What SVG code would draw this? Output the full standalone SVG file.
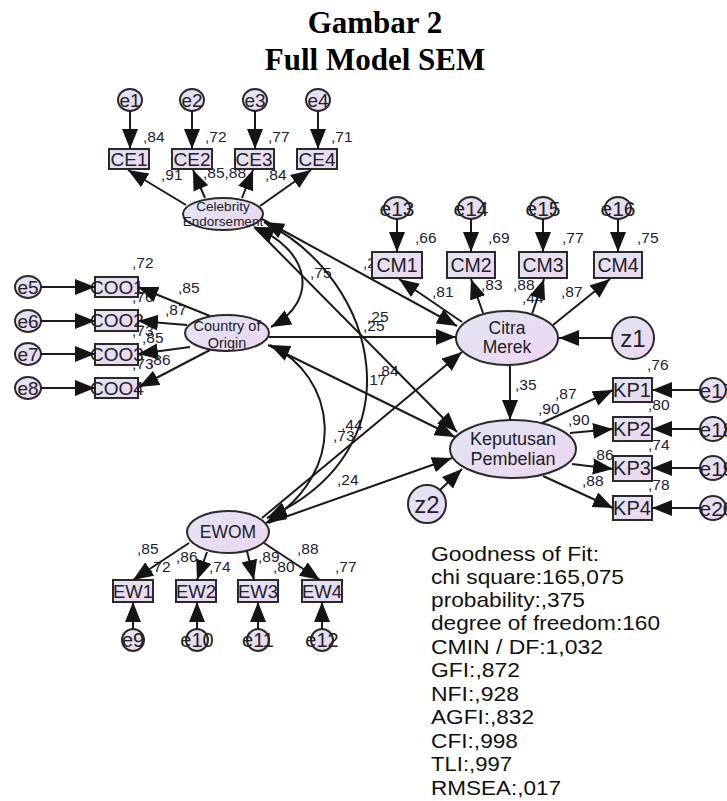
<svg xmlns="http://www.w3.org/2000/svg" width="727" height="801" viewBox="0 0 727 801">
<defs>
<linearGradient id="g" x1="0" y1="0" x2="1" y2="1">
<stop offset="0" stop-color="#dfe6f3"/>
<stop offset="1" stop-color="#efd5f1"/>
</linearGradient>
<marker id="ah" markerUnits="userSpaceOnUse" markerWidth="21" markerHeight="17" refX="20" refY="8" orient="auto-start-reverse">
<path d="M0,0 L20,8 L0,16 z" fill="#141414"/>
</marker>
</defs>
<style>
.t{font-family:"Times New Roman","Liberation Serif",serif;font-weight:bold;font-size:31px;fill:#000;text-anchor:middle}
.n{fill:url(#g);stroke:#2a2a2a;stroke-width:2}
.nt{font-family:"Liberation Sans",Arial,sans-serif;fill:#222;text-anchor:middle}
.lb{font-family:"Liberation Sans",Arial,sans-serif;font-size:15.5px;fill:#1a2238}
.gf{font-family:"Liberation Sans",Arial,sans-serif;font-size:21px;fill:#111}
.c path,.c line{stroke:#1a1a1a;stroke-width:2;fill:none}
.a{marker-end:url(#ah)}
.d{marker-start:url(#ah);marker-end:url(#ah)}
</style>
<rect width="727" height="801" fill="#fff"/>
<text class="t" x="375" y="33">Gambar 2</text>
<text class="t" x="375" y="70">Full Model SEM</text>

<g id="labels" class="lb">
<text x="143" y="142">,84</text><text x="205" y="142">,72</text><text x="268" y="142">,77</text><text x="331" y="142">,71</text>
<text x="161" y="180">,91</text><text x="203" y="178">,85,88</text><text x="265" y="180">,84</text>
<text x="132" y="268">,72</text><text x="178" y="293">,85</text><text x="132" y="302">,76</text><text x="165" y="315">,87</text>
<text x="132" y="336">,73</text><text x="142" y="343">,85</text><text x="132" y="369">,73</text><text x="149" y="365">,86</text>
<text x="415" y="243">,66</text><text x="488" y="243">,69</text><text x="562" y="243">,77</text><text x="637" y="243">,75</text>
<text x="363" y="268">,20</text><text x="432" y="297">,81</text><text x="481" y="290">,83</text><text x="513" y="290">,88</text><text x="522" y="303">,44</text><text x="561" y="297">,87</text>
<text x="310" y="278">,75</text><text x="367" y="322">,25</text><text x="363" y="331">,25</text>
<text x="377" y="376">,84</text><text x="365" y="385">,17</text><text x="341" y="430">,44</text><text x="333" y="441">,73</text><text x="337" y="485">,24</text>
<text x="515" y="390">,35</text><text x="555" y="399">,87</text><text x="538" y="414">,90</text><text x="568" y="425">,90</text><text x="592" y="460">,86</text><text x="582" y="486">,88</text>
<text x="647" y="370">,76</text><text x="648" y="410">,80</text><text x="648" y="450">,74</text><text x="648" y="490">,78</text>
<text x="137" y="554">,85</text><text x="149" y="572">,72</text><text x="176" y="562">,86</text><text x="209" y="572">,74</text>
<text x="258" y="562">,89</text><text x="273" y="572">,80</text><text x="297" y="554">,88</text><text x="335" y="572">,77</text>
</g>

<g id="e1"><ellipse class="n" cx="130" cy="100" rx="12" ry="11"/><text class="nt" x="130" y="107" font-size="19">e1</text></g>
<g id="e2"><ellipse class="n" cx="192" cy="100" rx="12" ry="11"/><text class="nt" x="192" y="107" font-size="19">e2</text></g>
<g id="e3"><ellipse class="n" cx="255" cy="100" rx="12" ry="11"/><text class="nt" x="255" y="107" font-size="19">e3</text></g>
<g id="e4"><ellipse class="n" cx="318" cy="100" rx="12" ry="11"/><text class="nt" x="318" y="107" font-size="19">e4</text></g>
<g id="CE1"><rect class="n" x="109" y="149" width="40" height="20"/><text class="nt" x="129" y="166" font-size="19">CE1</text></g>
<g id="CE2"><rect class="n" x="172" y="149" width="40" height="20"/><text class="nt" x="192" y="166" font-size="19">CE2</text></g>
<g id="CE3"><rect class="n" x="235" y="149" width="39" height="20"/><text class="nt" x="254" y="166" font-size="19">CE3</text></g>
<g id="CE4"><rect class="n" x="297" y="149" width="40" height="20"/><text class="nt" x="317" y="166" font-size="19">CE4</text></g>
<g id="CE"><ellipse class="n" cx="223" cy="214" rx="40" ry="16"/><text class="nt" x="223" y="211" font-size="13.5">Celebrity</text><text class="nt" x="223" y="226" font-size="13.5">Endorsement</text></g>

<g id="e5"><ellipse class="n" cx="28" cy="287" rx="13" ry="11"/><text class="nt" x="28" y="294" font-size="19">e5</text></g>
<g id="e6"><ellipse class="n" cx="28" cy="321" rx="13" ry="11"/><text class="nt" x="28" y="328" font-size="19">e6</text></g>
<g id="e7"><ellipse class="n" cx="28" cy="354" rx="13" ry="11"/><text class="nt" x="28" y="361" font-size="19">e7</text></g>
<g id="e8"><ellipse class="n" cx="28" cy="388" rx="13" ry="11"/><text class="nt" x="28" y="395" font-size="19">e8</text></g>
<g id="COO1"><rect class="n" x="95" y="277" width="43" height="20"/><text class="nt" x="117" y="294" font-size="19">COO1</text></g>
<g id="COO2"><rect class="n" x="95" y="310" width="43" height="21"/><text class="nt" x="117" y="327" font-size="19">COO2</text></g>
<g id="COO3"><rect class="n" x="95" y="344" width="43" height="21"/><text class="nt" x="117" y="361" font-size="19">COO3</text></g>
<g id="COO4"><rect class="n" x="95" y="378" width="43" height="20"/><text class="nt" x="117" y="395" font-size="19">COO4</text></g>
<g id="COO"><ellipse class="n" cx="227" cy="333" rx="42" ry="18"/><text class="nt" x="227" y="331" font-size="14.5">Country of</text><text class="nt" x="227" y="348" font-size="14.5">Origin</text></g>

<g id="e13"><ellipse class="n" cx="397" cy="208" rx="13" ry="11"/><text class="nt" x="397" y="216" font-size="21">e13</text></g>
<g id="e14"><ellipse class="n" cx="471" cy="208" rx="13" ry="11"/><text class="nt" x="471" y="216" font-size="21">e14</text></g>
<g id="e15"><ellipse class="n" cx="543" cy="208" rx="13" ry="11"/><text class="nt" x="543" y="216" font-size="21">e15</text></g>
<g id="e16"><ellipse class="n" cx="618" cy="208" rx="13" ry="11"/><text class="nt" x="618" y="216" font-size="21">e16</text></g>
<g id="CM1"><rect class="n" x="372" y="252" width="50" height="26"/><text class="nt" x="397" y="272" font-size="19.5">CM1</text></g>
<g id="CM2"><rect class="n" x="447" y="252" width="48" height="26"/><text class="nt" x="471" y="272" font-size="19.5">CM2</text></g>
<g id="CM3"><rect class="n" x="519" y="252" width="48" height="26"/><text class="nt" x="543" y="272" font-size="19.5">CM3</text></g>
<g id="CM4"><rect class="n" x="594" y="252" width="48" height="26"/><text class="nt" x="618" y="272" font-size="19.5">CM4</text></g>
<g id="CM"><ellipse class="n" cx="507" cy="338" rx="51" ry="27"/><text class="nt" x="507" y="334" font-size="17.5">Citra</text><text class="nt" x="507" y="353" font-size="17.5">Merek</text></g>
<g id="z1"><circle class="n" cx="633" cy="338" r="21"/><text class="nt" x="633" y="347" font-size="24">z1</text></g>

<g id="KP"><ellipse class="n" cx="513" cy="449" rx="63" ry="29"/><text class="nt" x="513" y="445" font-size="18">Keputusan</text><text class="nt" x="513" y="465" font-size="18">Pembelian</text></g>
<g id="z2"><circle class="n" cx="427" cy="504" r="19"/><text class="nt" x="427" y="513" font-size="24">z2</text></g>
<g id="KP1"><rect class="n" x="613" y="378" width="39" height="24"/><text class="nt" x="632" y="397" font-size="20">KP1</text></g>
<g id="KP2"><rect class="n" x="613" y="417" width="39" height="24"/><text class="nt" x="632" y="436" font-size="20">KP2</text></g>
<g id="KP3"><rect class="n" x="613" y="456" width="39" height="25"/><text class="nt" x="632" y="475" font-size="20">KP3</text></g>
<g id="KP4"><rect class="n" x="613" y="496" width="39" height="24"/><text class="nt" x="632" y="515" font-size="20">KP4</text></g>
<g id="e17"><ellipse class="n" cx="713" cy="390" rx="13" ry="12"/><text class="nt" x="717" y="398" font-size="21">e17</text></g>
<g id="e18"><ellipse class="n" cx="713" cy="429" rx="13" ry="12"/><text class="nt" x="717" y="437" font-size="21">e18</text></g>
<g id="e19"><ellipse class="n" cx="713" cy="468" rx="13" ry="12"/><text class="nt" x="717" y="476" font-size="21">e19</text></g>
<g id="e20"><ellipse class="n" cx="713" cy="508" rx="13" ry="12"/><text class="nt" x="717" y="516" font-size="21">e20</text></g>

<g id="EWOM"><ellipse class="n" cx="228" cy="532" rx="41" ry="21"/><text class="nt" x="228" y="538" font-size="17.5">EWOM</text></g>
<g id="EW1"><rect class="n" x="113" y="580" width="40" height="22"/><text class="nt" x="133" y="598" font-size="18.5">EW1</text></g>
<g id="EW2"><rect class="n" x="176" y="580" width="40" height="22"/><text class="nt" x="196" y="598" font-size="18.5">EW2</text></g>
<g id="EW3"><rect class="n" x="238" y="580" width="40" height="22"/><text class="nt" x="258" y="598" font-size="18.5">EW3</text></g>
<g id="EW4"><rect class="n" x="302" y="580" width="40" height="22"/><text class="nt" x="322" y="598" font-size="18.5">EW4</text></g>
<g id="e9"><ellipse class="n" cx="133" cy="640" rx="11" ry="11"/><text class="nt" x="133" y="647" font-size="20">e9</text></g>
<g id="e10"><ellipse class="n" cx="197" cy="640" rx="11" ry="11"/><text class="nt" x="197" y="647" font-size="20">e10</text></g>
<g id="e11"><ellipse class="n" cx="258" cy="640" rx="11" ry="11"/><text class="nt" x="258" y="647" font-size="20">e11</text></g>
<g id="e12"><ellipse class="n" cx="322" cy="640" rx="11" ry="11"/><text class="nt" x="322" y="647" font-size="20">e12</text></g>

<g id="connectors" class="c">
<line class="a" x1="130" y1="111" x2="130" y2="149"/>
<line class="a" x1="192" y1="111" x2="192" y2="149"/>
<line class="a" x1="255" y1="111" x2="255" y2="149"/>
<line class="a" x1="318" y1="111" x2="318" y2="149"/>
<line class="a" x1="186" y1="205" x2="128" y2="170"/>
<line class="a" x1="205" y1="198" x2="193" y2="170"/>
<line class="a" x1="242" y1="198" x2="253" y2="170"/>
<line class="a" x1="260" y1="206" x2="311" y2="170"/>

<line class="a" x1="41" y1="287" x2="95" y2="287"/>
<line class="a" x1="41" y1="321" x2="95" y2="321"/>
<line class="a" x1="41" y1="354" x2="95" y2="354"/>
<line class="a" x1="41" y1="388" x2="95" y2="388"/>
<line class="a" x1="210" y1="316" x2="138" y2="287"/>
<line class="a" x1="187" y1="325" x2="138" y2="321"/>
<line class="a" x1="190" y1="347" x2="138" y2="354"/>
<line class="a" x1="210" y1="350" x2="139" y2="387"/>

<line class="a" x1="397" y1="219" x2="397" y2="252"/>
<line class="a" x1="471" y1="219" x2="471" y2="252"/>
<line class="a" x1="543" y1="219" x2="543" y2="252"/>
<line class="a" x1="618" y1="219" x2="618" y2="252"/>
<line class="a" x1="462" y1="322" x2="399" y2="279"/>
<line class="a" x1="483" y1="313" x2="471" y2="279"/>
<line class="a" x1="532" y1="314" x2="544" y2="279"/>
<line class="a" x1="553" y1="325" x2="610" y2="279"/>
<line class="a" x1="612" y1="338" x2="559" y2="338"/>

<line class="a" x1="510" y1="366" x2="510" y2="420"/>
<line class="a" x1="542" y1="423" x2="613" y2="390"/>
<line class="a" x1="570" y1="433" x2="613" y2="429"/>
<line class="a" x1="572" y1="464" x2="613" y2="469"/>
<line class="a" x1="543" y1="476" x2="613" y2="508"/>
<line class="a" x1="700" y1="390" x2="652" y2="390"/>
<line class="a" x1="700" y1="429" x2="652" y2="429"/>
<line class="a" x1="700" y1="468" x2="652" y2="468"/>
<line class="a" x1="700" y1="508" x2="652" y2="508"/>
<line class="a" x1="440" y1="490" x2="462" y2="469"/>

<line class="a" x1="189" y1="543" x2="133" y2="580"/>
<line class="a" x1="207" y1="552" x2="197" y2="580"/>
<line class="a" x1="247" y1="551" x2="254" y2="580"/>
<line class="a" x1="264" y1="543" x2="320" y2="580"/>
<line class="a" x1="133" y1="629" x2="133" y2="602"/>
<line class="a" x1="197" y1="629" x2="197" y2="602"/>
<line class="a" x1="258" y1="629" x2="258" y2="602"/>
<line class="a" x1="322" y1="629" x2="322" y2="602"/>

<line class="a" x1="262" y1="219" x2="457" y2="326"/>
<line class="a" x1="255" y1="228" x2="457" y2="432"/>
<line class="a" x1="269" y1="337" x2="456" y2="337"/>
<line class="a" x1="268" y1="345" x2="455" y2="437"/>
<line class="a" x1="262" y1="518" x2="462" y2="352"/>
<line class="a" x1="268" y1="523" x2="452" y2="458"/>
<path class="d" d="M254,227 C310,250 320,300 271,327"/>
<path class="d" d="M264,222 C380,280 420,450 267,518"/>
<path class="d" d="M270,345 C335,375 352,470 266,523"/>
</g>

<g id="fit" class="gf">
<text x="431" y="561" textLength="168" lengthAdjust="spacingAndGlyphs">Goodness of Fit:</text>
<text x="431" y="584" textLength="193" lengthAdjust="spacingAndGlyphs">chi square:165,075</text>
<text x="431" y="607" textLength="154" lengthAdjust="spacingAndGlyphs">probability:,375</text>
<text x="431" y="630" textLength="229" lengthAdjust="spacingAndGlyphs">degree of freedom:160</text>
<text x="431" y="654" textLength="172" lengthAdjust="spacingAndGlyphs">CMIN / DF:1,032</text>
<text x="431" y="677" textLength="89" lengthAdjust="spacingAndGlyphs">GFI:,872</text>
<text x="431" y="701" textLength="88" lengthAdjust="spacingAndGlyphs">NFI:,928</text>
<text x="431" y="724" textLength="103" lengthAdjust="spacingAndGlyphs">AGFI:,832</text>
<text x="431" y="748" textLength="87" lengthAdjust="spacingAndGlyphs">CFI:,998</text>
<text x="431" y="771" textLength="81" lengthAdjust="spacingAndGlyphs">TLI:,997</text>
<text x="431" y="795" textLength="130" lengthAdjust="spacingAndGlyphs">RMSEA:,017</text>
</g>
</svg>
